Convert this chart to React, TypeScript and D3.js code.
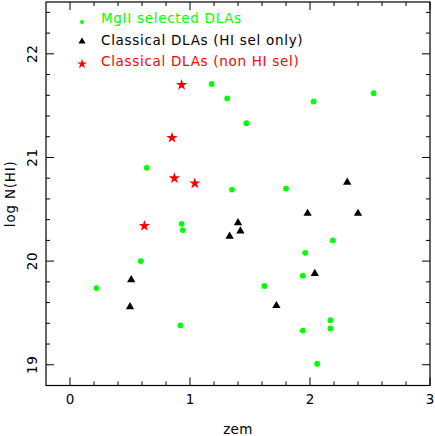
import React from "react";
import * as d3 from "d3";

const mgiiZ = [0.22, 0.59, 0.92, 0.64, 0.93, 0.94, 1.35, 1.18, 1.31, 1.47, 1.80, 2.19, 1.96, 1.94, 1.62, 1.94, 2.17, 2.17, 2.06, 2.03, 2.53];
const mgiiN = [19.74, 20.0, 19.38, 20.90, 20.36, 20.30, 20.69, 21.71, 21.57, 21.33, 20.70, 20.20, 20.08, 19.86, 19.76, 19.33, 19.43, 19.35, 19.01, 21.54, 21.62];

const hiZ = [0.51, 0.50, 1.40, 1.42, 1.33, 2.31, 1.98, 2.40, 2.04, 1.72];
const hiN = [19.82, 19.56, 20.37, 20.29, 20.24, 20.76, 20.46, 20.46, 19.88, 19.57];

const nonZ = [0.85, 0.87, 1.04, 0.62, 0.93];
const nonN = [21.19, 20.80, 20.75, 20.34, 21.70];

const xMajor = [0, 1, 2, 3];
const yMajor = [19, 20, 21, 22];
const legendLabels = ["MgII selected DLAs", "Classical DLAs (HI sel only)", "Classical DLAs (non HI sel)"];

const W = 435, H = 436;
const L = 46, R = 430, T = 2, B = 385.5;
const FONT = "'DejaVu Sans', Verdana, sans-serif";

export default function App() {
  const x = d3.scaleLinear().domain([-0.2, 3]).range([L, R]);
  const y = d3.scaleLinear().domain([18.8, 22.5]).range([B, T]);

  const xMinor = d3.range(-0.2, 3.0001, 0.2).map((v) => +v.toFixed(2)).filter((v) => !xMajor.includes(v) && v > -0.2 && v < 3);
  const yMinor = d3.range(18.8, 22.5001, 0.2).map((v) => +v.toFixed(2)).filter((v) => !yMajor.includes(v) && v > 18.8 && v < 22.5);

  const tri = d3.symbol().type(d3.symbolTriangle).size(30)();
  const star = d3.symbol().type(d3.symbolStar).size(40)();

  const ticks: JSX.Element[] = [];
  const addX = (v: number, len: number, k: string) => {
    const px = x(v);
    ticks.push(<line key={"xb" + k} x1={px} x2={px} y1={B} y2={B - len} stroke="#000" strokeWidth={1} />);
    ticks.push(<line key={"xt" + k} x1={px} x2={px} y1={T} y2={T + len} stroke="#000" strokeWidth={1} />);
  };
  const addY = (v: number, len: number, k: string) => {
    const py = y(v);
    ticks.push(<line key={"yl" + k} x1={L} x2={L + len} y1={py} y2={py} stroke="#000" strokeWidth={1} />);
    ticks.push(<line key={"yr" + k} x1={R} x2={R - len} y1={py} y2={py} stroke="#000" strokeWidth={1} />);
  };
  xMajor.forEach((v) => addX(v, 8, "M" + v));
  xMinor.forEach((v) => addX(v, 4, "m" + v));
  yMajor.forEach((v) => addY(v, 8, "M" + v));
  yMinor.forEach((v) => addY(v, 4, "m" + v));

  const legX = 82, legTextX = 101, legY0 = 18, legDy = 21.5;

  return (
    <svg width={W} height={H} style={{ position: "absolute", left: 0, top: 0 }} fontFamily={FONT}>
      <rect x={0} y={0} width={W} height={H} fill="#fff" />
      <rect x={L} y={T} width={R - L} height={B - T} fill="none" stroke="#000" strokeWidth={1.2} />
      {ticks}
      {xMajor.map((v) => (
        <text key={"xl" + v} x={x(v)} y={404} textAnchor="middle" fontSize={13.5}>{v}</text>
      ))}
      {yMajor.map((v) => (
        <text key={"yl" + v} transform={`translate(36.5,${y(v)}) rotate(-90)`} textAnchor="middle" fontSize={13.5} letterSpacing={0.6}>{v}</text>
      ))}
      <text x={(L + R) / 2} y={434} textAnchor="middle" fontSize={13.5} letterSpacing={0.4}>zem</text>
      <text transform={`translate(15,${(T + B) / 2}) rotate(-90)`} textAnchor="middle" fontSize={13.5} letterSpacing={0.8}>log N(HI)</text>

      {mgiiZ.map((z, i) => (
        <circle key={"g" + i} cx={x(z)} cy={y(mgiiN[i])} r={2.9} fill="#00ff00" />
      ))}
      {hiZ.map((z, i) => (
        <path key={"t" + i} d={tri} transform={`translate(${x(z)},${y(hiN[i])})`} fill="#000" />
      ))}
      {nonZ.map((z, i) => (
        <path key={"s" + i} d={star} transform={`translate(${x(z)},${y(nonN[i])})`} fill="#ff0000" />
      ))}

      <circle cx={legX} cy={legY0 + 4} r={2} fill="#00ff00" />
      <path d={d3.symbol().type(d3.symbolTriangle).size(22)()} transform={`translate(${legX},${legY0 + legDy + 2})`} fill="#000" />
      <path d={d3.symbol().type(d3.symbolStar).size(30)()} transform={`translate(${legX},${legY0 + 2 * legDy + 3})`} fill="#ff0000" />
      {legendLabels.map((t, i) => (
        <text key={"lt" + i} x={legTextX} y={legY0 + i * legDy + 5} fontSize={13.5} letterSpacing={0.7} fill={i === 0 ? "#00ff00" : i === 1 ? "#000" : "#ff0000"}>{t}</text>
      ))}
    </svg>
  );
}
